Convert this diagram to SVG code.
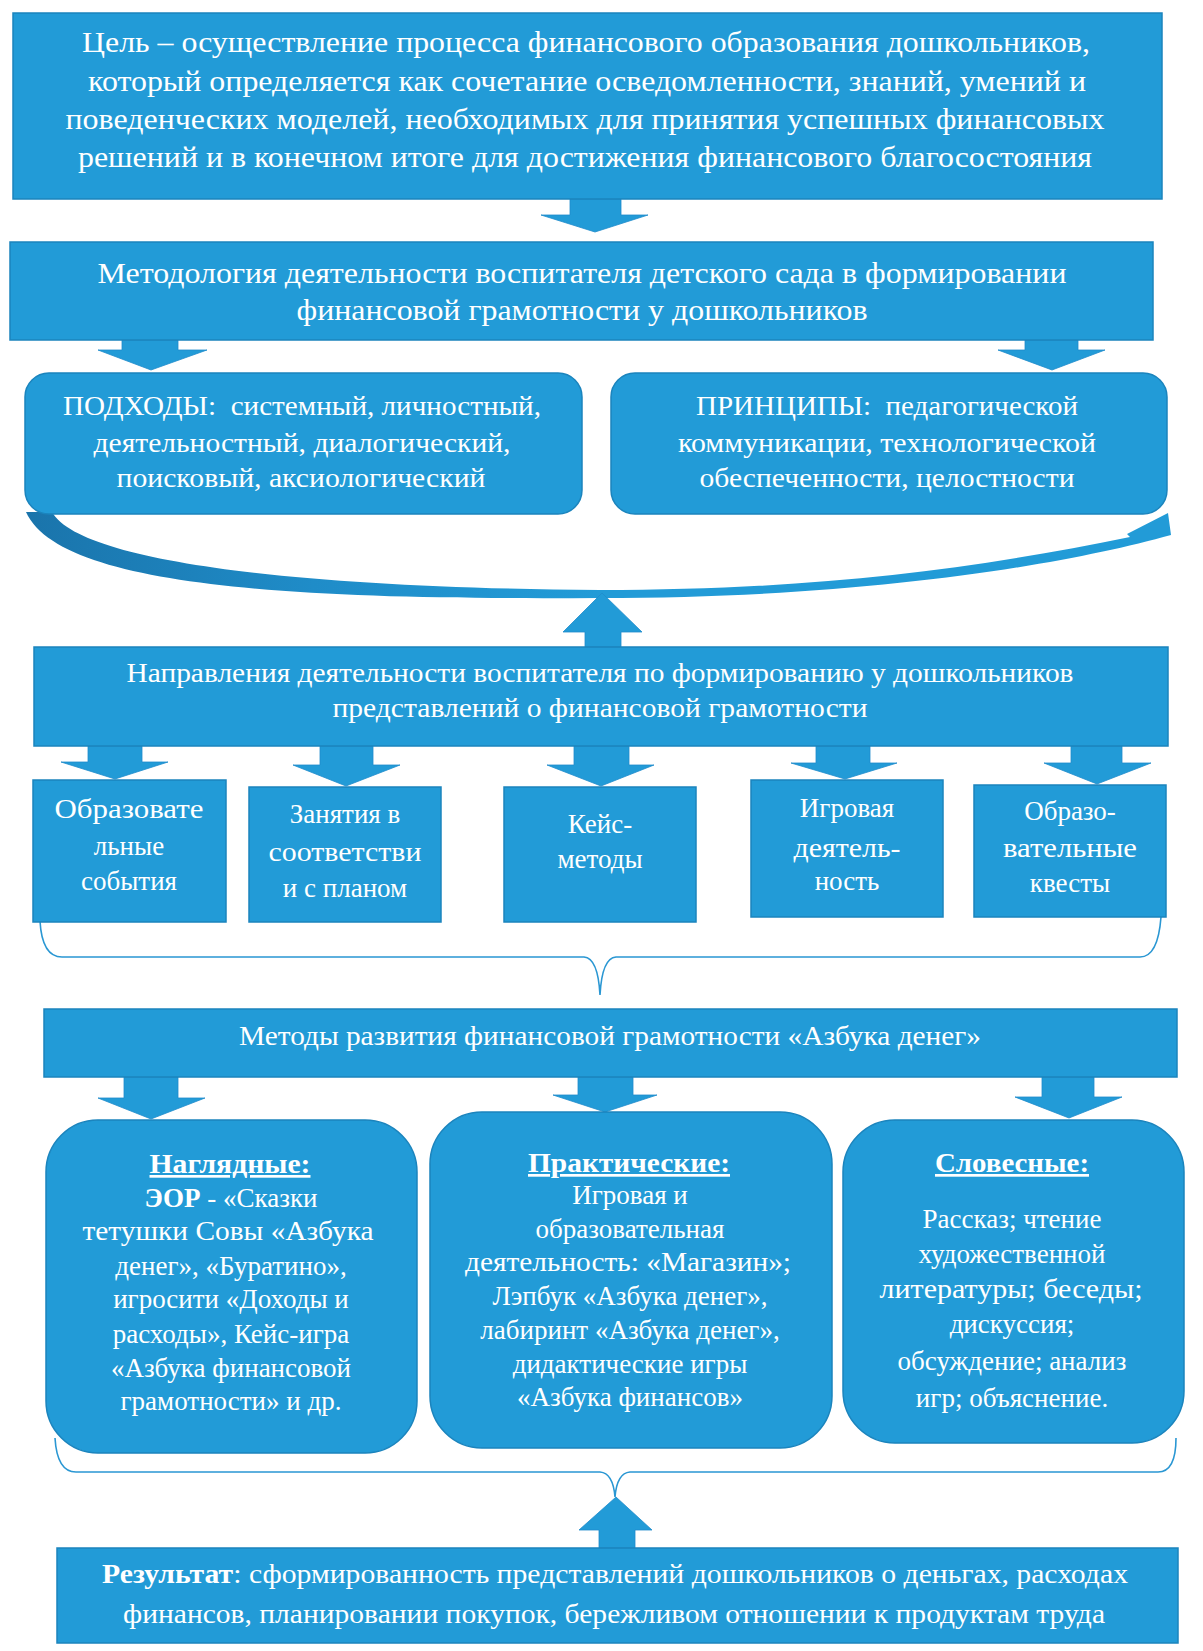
<svg xmlns="http://www.w3.org/2000/svg" width="1203" height="1651" viewBox="0 0 1203 1651">
<defs>
<style>
.box{fill:#229bd7;stroke:#1b84bd;stroke-width:1.5}
.arr{fill:#229bd7;stroke:#1f8ccb;stroke-width:0.8}
.br{fill:none;stroke:#2a97d3;stroke-width:1.6}
.t{font-family:'Liberation Serif','DejaVu Serif',serif;fill:#ffffff;text-anchor:middle;white-space:pre}
.f30{font-size:30px}.f29{font-size:29px}.f28{font-size:28px}.f27{font-size:27px}
.b{font-weight:bold}
.u{font-weight:bold;text-decoration:underline}
</style>
<linearGradient id="cg" x1="0" y1="0" x2="1" y2="0">
<stop offset="0" stop-color="#1a74ab"/>
<stop offset="0.25" stop-color="#1f8cc8"/>
<stop offset="0.5" stop-color="#229bd7"/>
<stop offset="1" stop-color="#229bd7"/>
</linearGradient>
</defs>
<rect width="1203" height="1651" fill="#ffffff"/>

<g id="connectors">
<polygon class="arr" points="570,199 621,199 621,215 648,215 595,232 541,215 570,215"/>
<polygon class="arr" points="122,340 178,340 178,350 207,350 151,370 98,350 122,350"/>
<polygon class="arr" points="1025,340 1078,340 1078,350 1105,350 1052,370 998,350 1025,350"/>
<path id="curved-arrow" fill="url(#cg)" d="M 26 512 L 52 512 C 80 562, 300 588, 600 590 C 800 590, 960 572, 1130 537 L 1127 534 L 1168 513 L 1171 535 C 1060 566, 860 598, 600 598 C 300 600, 60 588, 26 512 Z"/>
<polygon class="arr" points="585,647 621,647 621,632 642,632 602,593 563,632 585,632"/>
<polygon class="arr" points="88,746 142,746 142,762 168,762 115,779 61,762 88,762"/>
<polygon class="arr" points="320,746 373,746 373,765 400,765 346,786 293,765 320,765"/>
<polygon class="arr" points="574,746 629,746 629,765 654,765 601,786 547,765 574,765"/>
<polygon class="arr" points="816,746 870,746 870,763 897,763 845,779 791,763 816,763"/>
<polygon class="arr" points="1071,746 1122,746 1122,763 1151,763 1097,784 1044,763 1071,763"/>
<path class="br" d="M 40 921 Q 42 957 62 957 L 584 957 Q 598 958 600 995 Q 602 958 616 957 L 1140 957 Q 1158 957 1161 917"/>
<polygon class="arr" points="124,1077 178,1077 178,1098 205,1098 151,1119 98,1098 124,1098"/>
<polygon class="arr" points="578,1077 633,1077 633,1095 657,1095 605,1112 553,1095 578,1095"/>
<polygon class="arr" points="1042,1077 1094,1077 1094,1097 1122,1097 1069,1118 1015,1097 1042,1097"/>
<path class="br" d="M 55 1438 Q 57 1472 76 1472 L 600 1472 Q 613 1473 615 1497 Q 617 1473 630 1472 L 1158 1472 Q 1176 1472 1176 1438"/>
<polygon class="arr" points="599,1548 635,1548 635,1530 652,1530 616,1497 579,1530 599,1530"/>
</g>

<g font-family="Liberation Serif, DejaVu Serif, serif">
<g id="goal">
<rect class="box" x="13" y="13" width="1149" height="186"/>
<text class="t f30" x="586" y="52" textLength="1008" lengthAdjust="spacingAndGlyphs">Цель – осуществление процесса финансового образования дошкольников,</text>
<text class="t f30" x="587" y="91" textLength="998" lengthAdjust="spacingAndGlyphs">который определяется как сочетание осведомленности, знаний, умений и</text>
<text class="t f30" x="585" y="129" textLength="1039" lengthAdjust="spacingAndGlyphs">поведенческих моделей, необходимых для принятия успешных финансовых</text>
<text class="t f30" x="585" y="167" textLength="1014" lengthAdjust="spacingAndGlyphs">решений и в конечном итоге для достижения финансового благосостояния</text>
</g>

<g id="methodology">
<rect class="box" x="10" y="242" width="1143" height="98"/>
<text class="t f29" x="582" y="283" textLength="969" lengthAdjust="spacingAndGlyphs">Методология деятельности воспитателя детского сада в формировании</text>
<text class="t f29" x="582" y="320" textLength="571" lengthAdjust="spacingAndGlyphs">финансовой грамотности у дошкольников</text>
</g>

<g id="approaches">
<rect class="box" x="25" y="373" width="557" height="141" rx="24"/>
<text class="t f27" x="302" y="415" textLength="478" lengthAdjust="spacingAndGlyphs">ПОДХОДЫ:  системный, личностный,</text>
<text class="t f27" x="302" y="452" textLength="417" lengthAdjust="spacingAndGlyphs">деятельностный, диалогический,</text>
<text class="t f27" x="301" y="487" textLength="369" lengthAdjust="spacingAndGlyphs">поисковый, аксиологический</text>
</g>

<g id="principles">
<rect class="box" x="611" y="373" width="556" height="141" rx="24"/>
<text class="t f27" x="887" y="415" textLength="382" lengthAdjust="spacingAndGlyphs">ПРИНЦИПЫ:  педагогической</text>
<text class="t f27" x="887" y="452" textLength="418" lengthAdjust="spacingAndGlyphs">коммуникации, технологической</text>
<text class="t f27" x="887" y="487" textLength="375" lengthAdjust="spacingAndGlyphs">обеспеченности, целостности</text>
</g>

<g id="directions">
<rect class="box" x="34" y="647" width="1134" height="99"/>
<text class="t f28" x="600" y="682" textLength="947" lengthAdjust="spacingAndGlyphs">Направления деятельности воспитателя по формированию у дошкольников</text>
<text class="t f28" x="600" y="717" textLength="535" lengthAdjust="spacingAndGlyphs">представлений о финансовой грамотности</text>
</g>

<g id="events">
<rect class="box" x="33" y="780" width="193" height="142"/>
<text class="t f27" x="129" y="818" textLength="149" lengthAdjust="spacingAndGlyphs">Образовате</text>
<text class="t f27" x="129" y="855">льные</text>
<text class="t f27" x="129" y="890">события</text>
</g>

<g id="lessons">
<rect class="box" x="249" y="787" width="192" height="135"/>
<text class="t f27" x="345" y="823">Занятия в</text>
<text class="t f27" x="345" y="861" textLength="153" lengthAdjust="spacingAndGlyphs">соответстви</text>
<text class="t f27" x="345" y="897">и с планом</text>
</g>

<g id="cases">
<rect class="box" x="504" y="787" width="192" height="135"/>
<text class="t f27" x="600" y="833">Кейс-</text>
<text class="t f27" x="600" y="868">методы</text>
</g>

<g id="games">
<rect class="box" x="751" y="780" width="192" height="137"/>
<text class="t f27" x="847" y="817">Игровая</text>
<text class="t f27" x="847" y="857" textLength="107" lengthAdjust="spacingAndGlyphs">деятель-</text>
<text class="t f27" x="847" y="890">ность</text>
</g>

<g id="quests">
<rect class="box" x="974" y="785" width="192" height="132"/>
<text class="t f27" x="1070" y="820">Образо-</text>
<text class="t f27" x="1070" y="857" textLength="134" lengthAdjust="spacingAndGlyphs">вательные</text>
<text class="t f27" x="1070" y="892">квесты</text>
</g>

<g id="methods">
<rect class="box" x="44" y="1009" width="1133" height="68"/>
<text class="t f27" x="610" y="1045" textLength="742" lengthAdjust="spacingAndGlyphs">Методы развития финансовой грамотности «Азбука денег»</text>
</g>

<g id="visual">
<rect class="box" x="46" y="1120" width="371" height="333" rx="52"/>
<text class="t f27 u" x="230" y="1173" textLength="161" lengthAdjust="spacingAndGlyphs">Наглядные:</text>
<text class="t f27" x="231" y="1207"><tspan class="b">ЭОР</tspan> - «Сказки</text>
<text class="t f27" x="228" y="1240" textLength="291" lengthAdjust="spacingAndGlyphs">тетушки Совы «Азбука</text>
<text class="t f27" x="231" y="1275">денег», «Буратино»,</text>
<text class="t f27" x="231" y="1308">игросити «Доходы и</text>
<text class="t f27" x="231" y="1343">расходы», Кейс-игра</text>
<text class="t f27" x="231" y="1377">«Азбука финансовой</text>
<text class="t f27" x="231" y="1410">грамотности» и др.</text>
</g>

<g id="practical">
<rect class="box" x="430" y="1112" width="402" height="336" rx="52"/>
<text class="t f27 u" x="629" y="1172" textLength="202" lengthAdjust="spacingAndGlyphs">Практические:</text>
<text class="t f27" x="630" y="1204">Игровая и</text>
<text class="t f27" x="630" y="1238">образовательная</text>
<text class="t f27" x="628" y="1271" textLength="326" lengthAdjust="spacingAndGlyphs">деятельность: «Магазин»;</text>
<text class="t f27" x="630" y="1305">Лэпбук «Азбука денег»,</text>
<text class="t f27" x="630" y="1339">лабиринт «Азбука денег»,</text>
<text class="t f27" x="630" y="1373">дидактические игры</text>
<text class="t f27" x="630" y="1406">«Азбука финансов»</text>
</g>

<g id="verbal">
<rect class="box" x="843" y="1120" width="341" height="323" rx="52"/>
<text class="t f27 u" x="1012" y="1172" textLength="154" lengthAdjust="spacingAndGlyphs">Словесные:</text>
<text class="t f27" x="1012" y="1228">Рассказ; чтение</text>
<text class="t f27" x="1012" y="1263">художественной</text>
<text class="t f27" x="1011" y="1298" textLength="263" lengthAdjust="spacingAndGlyphs">литературы; беседы;</text>
<text class="t f27" x="1012" y="1333">дискуссия;</text>
<text class="t f27" x="1012" y="1370">обсуждение; анализ</text>
<text class="t f27" x="1012" y="1407">игр; объяснение.</text>
</g>

<g id="result">
<rect class="box" x="57" y="1548" width="1121" height="95"/>
<text class="t f28" x="615" y="1583" textLength="1026" lengthAdjust="spacingAndGlyphs"><tspan class="b">Результат</tspan>: сформированность представлений дошкольников о деньгах, расходах</text>
<text class="t f28" x="614" y="1623" textLength="982" lengthAdjust="spacingAndGlyphs">финансов, планировании покупок, бережливом отношении к продуктам труда</text>
</g>
</g>
</svg>
